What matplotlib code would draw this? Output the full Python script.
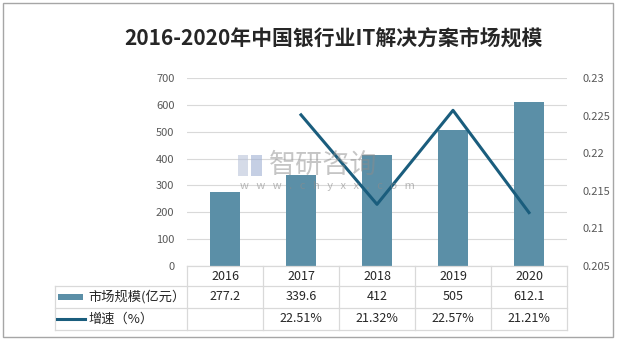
import matplotlib
matplotlib.use("Agg")
import matplotlib.pyplot as plt
from matplotlib.patches import Rectangle
from matplotlib.lines import Line2D
from matplotlib.ticker import FuncFormatter

plt.rcParams['font.family'] = ['Noto Sans CJK SC', 'DejaVu Sans']

years = ["2016", "2017", "2018", "2019", "2020"]
market_size = [277.2, 339.6, 412, 505, 612.1]
growth = [None, 0.2251, 0.2132, 0.2257, 0.2121]
growth_labels = ["", "22.51%", "21.32%", "22.57%", "21.21%"]
size_label = "市场规模(亿元）"
growth_label = "增速（%）"
title = "2016-2020年中国银行业IT解决方案市场规模"

BAR_C = "#5B8FA7"
LINE_C = "#1A5D7D"
GRID_C = "#D9D9D9"
TXT_C = "#595959"

W, H = 617, 345
fig = plt.figure(figsize=(W / 100, H / 100), dpi=100)


def fx(x):
    return x / W


def fy(y):
    return 1 - y / H


# outer frame
fig.patches.append(Rectangle((fx(3), fy(337)), fx(610), 334 / H, transform=fig.transFigure,
                             fill=False, edgecolor="#A6A6A6", lw=1.0))

left, right, top, bottom = 187, 567, 78, 266
ax = fig.add_axes([fx(left), fy(bottom), fx(right - left), (bottom - top) / H])
xs = list(range(len(years)))
ax.bar(xs, market_size, width=0.4, color=BAR_C, zorder=3)
ax.set_xlim(-0.5, len(years) - 0.5)
ax.set_ylim(0, 700)
ax.set_yticks(range(0, 701, 100))
ax.yaxis.grid(True, color=GRID_C, lw=0.8, zorder=0)
ax.set_xticks([])
for s in ax.spines.values():
    s.set_visible(False)
ax.tick_params(axis='y', length=0, labelsize=8, labelcolor=TXT_C, pad=9)

ax2 = ax.twinx()
gx = [x for x, g in zip(xs, growth) if g is not None]
gy = [g for g in growth if g is not None]
ax2.plot(gx, gy, color=LINE_C, lw=2.2, zorder=4)
ax2.set_ylim(0.205, 0.23)
ax2.set_yticks([0.205, 0.21, 0.215, 0.22, 0.225, 0.23])
ax2.yaxis.set_major_formatter(FuncFormatter(lambda v, p: f"{v:g}"))
ax2.tick_params(axis='y', length=0, labelsize=8, labelcolor=TXT_C, pad=11)
for s in ax2.spines.values():
    s.set_visible(False)

fig.text(fx(333), fy(38), title, ha='center', va='center', fontsize=15,
         fontweight='bold', color="#262626")

# data table below the plot
tl = 55
rows = [266, 286, 308, 330]
col_w = (right - left) / len(years)
cols = [left + i * col_w for i in range(len(years) + 1)]


def hline(y, x0, x1):
    fig.add_artist(Line2D([fx(x0), fx(x1)], [fy(y), fy(y)], transform=fig.transFigure,
                          color=GRID_C, lw=0.9))


def vline(x, y0, y1):
    fig.add_artist(Line2D([fx(x), fx(x)], [fy(y0), fy(y1)], transform=fig.transFigure,
                          color=GRID_C, lw=0.9))


hline(rows[0], left, right)
for y in rows[1:]:
    hline(y, tl, right)
vline(tl, rows[1], rows[3])
for x in cols:
    vline(x, rows[0], rows[3])

for i, yr in enumerate(years):
    cx = (cols[i] + cols[i + 1]) / 2
    fig.text(fx(cx), fy((rows[0] + rows[1]) / 2), yr, ha='center', va='center',
             fontsize=9, color="#262626")
    fig.text(fx(cx), fy((rows[1] + rows[2]) / 2), f"{market_size[i]:g}", ha='center',
             va='center', fontsize=9, color="#262626")
    fig.text(fx(cx), fy((rows[2] + rows[3]) / 2), growth_labels[i], ha='center',
             va='center', fontsize=9, color="#262626")

# legend keys inside the table
ym = (rows[1] + rows[2]) / 2
fig.patches.append(Rectangle((fx(58), fy(ym + 3)), fx(25), 6 / H, transform=fig.transFigure,
                             facecolor=BAR_C, edgecolor='none'))
fig.text(fx(88), fy(ym), size_label, ha='left', va='center', fontsize=9.5, color="#262626")
ym = (rows[2] + rows[3]) / 2
fig.add_artist(Line2D([fx(57), fx(85)], [fy(ym), fy(ym)], transform=fig.transFigure,
                      color=LINE_C, lw=2.2))
fig.text(fx(88), fy(ym), growth_label, ha='left', va='center', fontsize=9.5, color="#262626")

# watermark
fig.text(fx(269), fy(165), "智研咨询", ha='left', va='center', fontsize=19.5,
         color="#8C8C8C", alpha=0.5, zorder=10)
fig.text(fx(240), fy(186), "w   w   w   .   c   h   y   x   x   .   c   o   m", ha='left',
         va='center', fontsize=8, color="#8C8C8C", alpha=0.6, zorder=10)
fig.patches.append(Rectangle((fx(238), fy(176)), fx(10), 21 / H, transform=fig.transFigure,
                             facecolor="#B9C3DA", edgecolor='none', alpha=0.6, zorder=10))
fig.patches.append(Rectangle((fx(251), fy(176)), fx(11), 21 / H, transform=fig.transFigure,
                             facecolor="#9FB0D3", edgecolor='none', alpha=0.6, zorder=10))

fig.savefig("out.png", dpi=100)
